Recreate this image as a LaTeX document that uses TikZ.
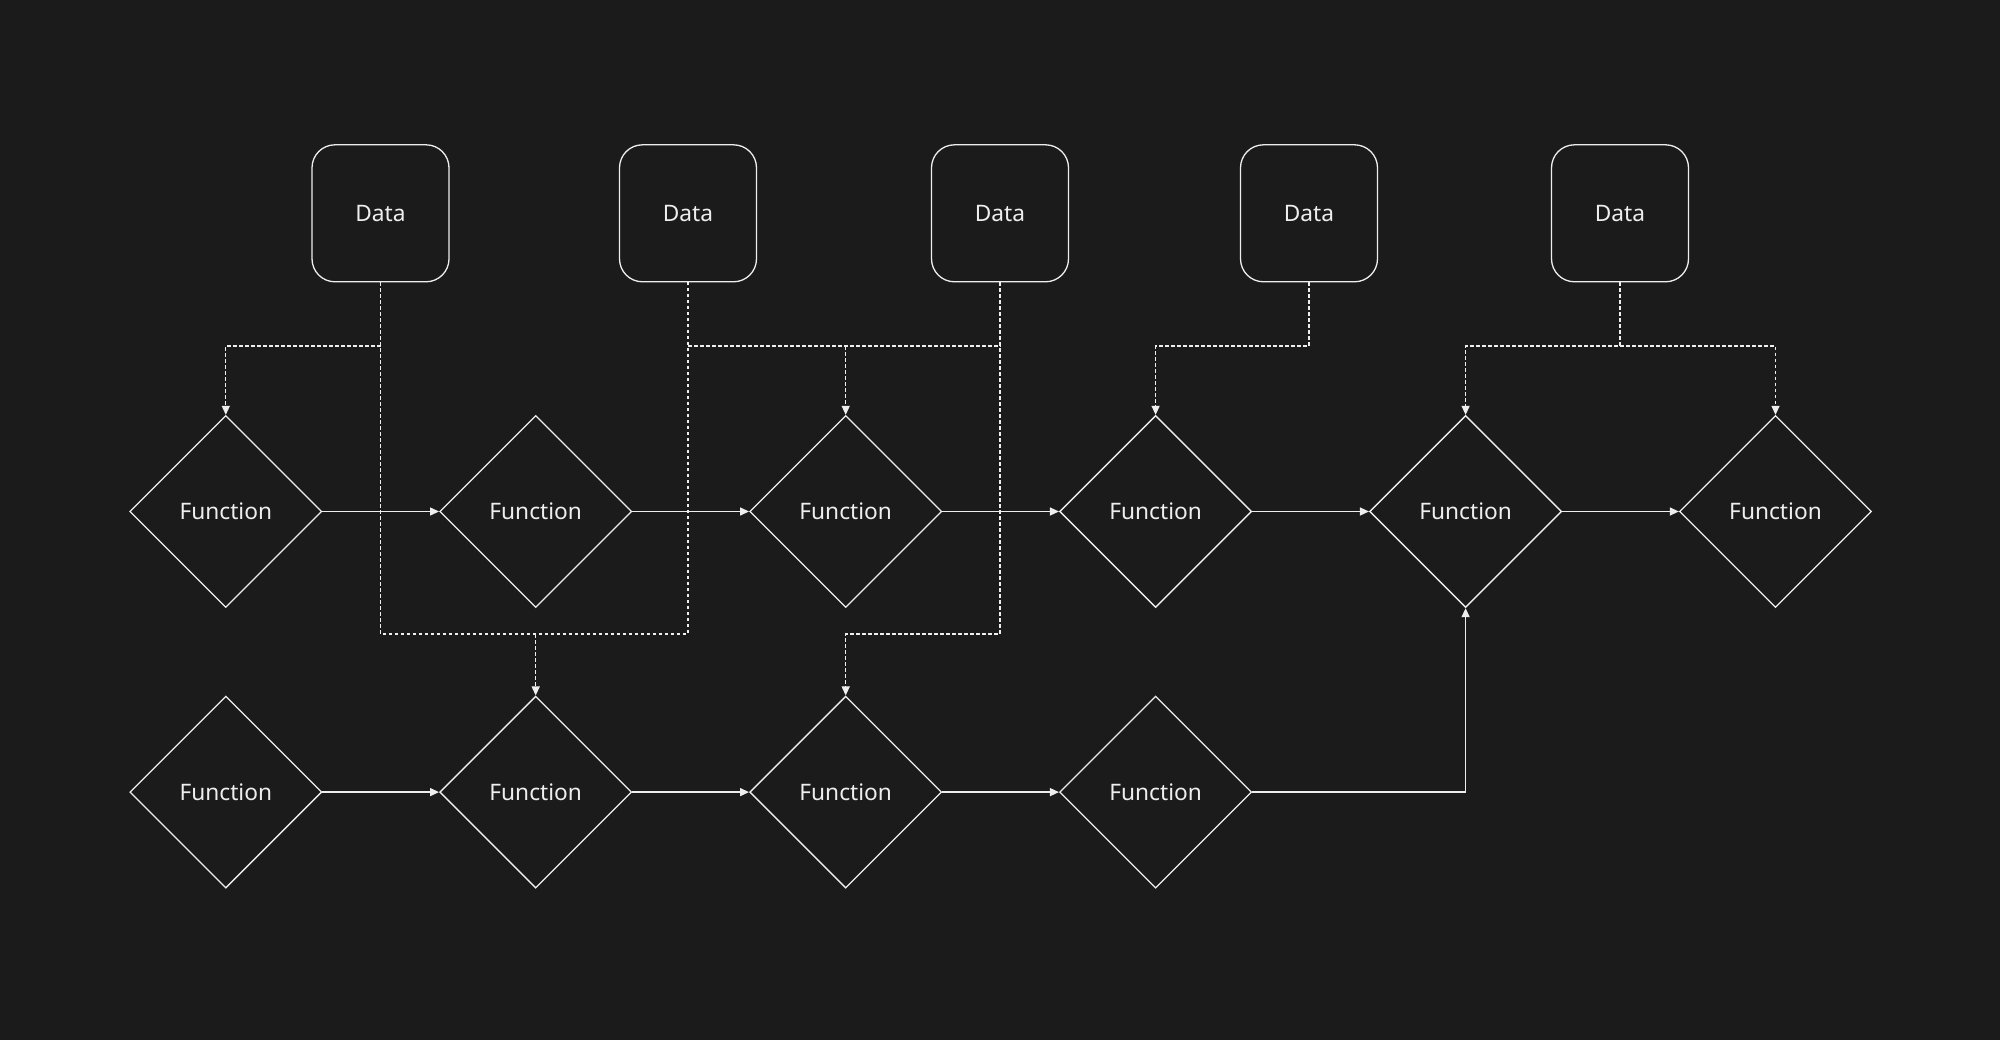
\documentclass[tikz,border=0pt]{standalone}
\usepackage{fontspec}
\setmainfont{Noto Sans}
\usetikzlibrary{shapes.geometric,arrows.meta}
\definecolor{bgc}{RGB}{27,27,27}
\definecolor{fgc}{RGB}{238,238,238}
\tikzset{
  fn/.style={draw=fgc, shape=diamond, minimum width=192pt, minimum height=192pt, inner sep=0pt, line width=1.3pt, text=fgc, font=\fontsize{22.7}{26}\selectfont},
  databox/.style={draw=fgc, rectangle, rounded corners=23pt, minimum width=137pt, minimum height=137pt, inner sep=0pt, line width=1.3pt, text=fgc, font=\fontsize{22.7}{26}\selectfont},
  flow/.style={draw=fgc, line width=1.3pt, -{Triangle[length=9pt,width=8pt]}},
  dsh/.style={draw=fgc, line width=1.3pt, dash pattern=on 3.5pt off 2.5pt},
  dsharr/.style={dsh, -{Triangle[length=9pt,width=8pt]}}
}
\begin{document}
\begin{tikzpicture}[x=1pt,y=-1pt]
\useasboundingbox (0,0) rectangle (2000,1039);
\fill[bgc] (-4,-4) rectangle (2004,1043);
% data
\node[databox] (d1) at (380.5,213.3) {Data};
\node[databox] (d2) at (688,213.3) {Data};
\node[databox] (d3) at (1000,213.3) {Data};
\node[databox] (d4) at (1309,213.3) {Data};
\node[databox] (d5) at (1620,213.3) {Data};
% row 1
\node[fn] (a1) at (225.8,511.5) {Function};
\node[fn] (a2) at (535.7,511.5) {Function};
\node[fn] (a3) at (845.7,511.5) {Function};
\node[fn] (a4) at (1155.6,511.5) {Function};
\node[fn] (a5) at (1465.6,511.5) {Function};
\node[fn] (a6) at (1775.5,511.5) {Function};
% row 2
\node[fn] (b1) at (225.8,792.1) {Function};
\node[fn] (b2) at (535.7,792.1) {Function};
\node[fn] (b3) at (845.7,792.1) {Function};
\node[fn] (b4) at (1155.6,792.1) {Function};
% solid flows
\draw[flow] (a1.east) -- (a2.west);
\draw[flow] (a2.east) -- (a3.west);
\draw[flow] (a3.east) -- (a4.west);
\draw[flow] (a4.east) -- (a5.west);
\draw[flow] (a5.east) -- (a6.west);
\draw[flow] (b1.east) -- (b2.west);
\draw[flow] (b2.east) -- (b3.west);
\draw[flow] (b3.east) -- (b4.west);
\draw[flow] (b4.east) -| (a5.south);
% dashed data links
\draw[dsh] (d1.south) -- (d1.south |- 0,634) -| (d2.south);
\draw[dsharr] (d1.south |- 0,346) -| (a1.north);
\draw[dsharr] (b2.north |- 0,634) -- (b2.north);
\draw[dsh] (d2.south |- 0,346) -| (d3.south);
\draw[dsharr] (a3.north |- 0,346) -- (a3.north);
\draw[dsharr] (d3.south) -- (d3.south |- 0,634) -| (b3.north);
\draw[dsharr] (d4.south) -- (d4.south |- 0,346) -| (a4.north);
\draw[dsharr] (d5.south) -- (d5.south |- 0,346) -| (a5.north);
\draw[dsharr] (d5.south |- 0,346) -| (a6.north);
\end{tikzpicture}
\end{document}
